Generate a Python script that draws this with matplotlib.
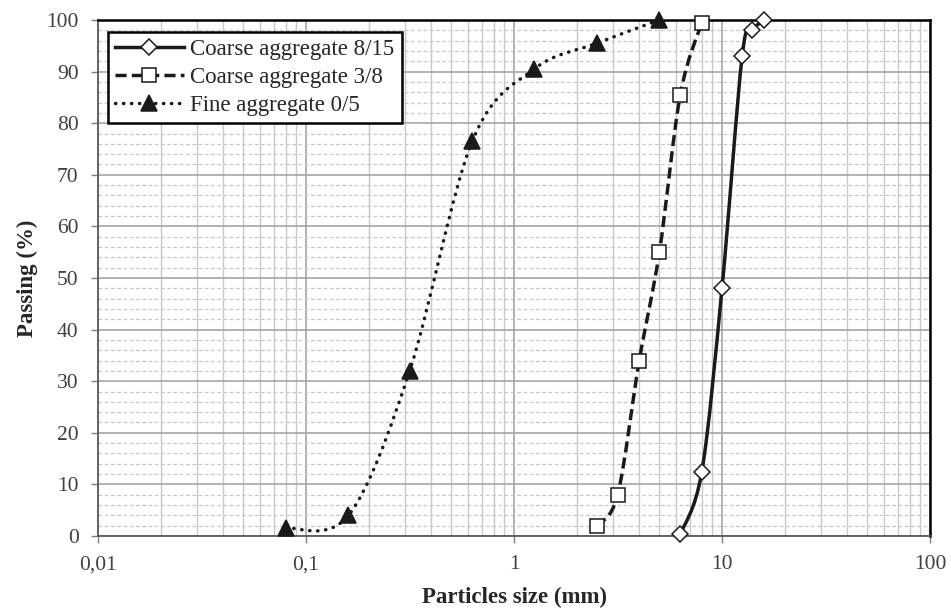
import numpy as np
import matplotlib
matplotlib.use('Agg')
import matplotlib.pyplot as plt
from matplotlib.path import Path
from matplotlib.patches import PathPatch
from matplotlib.lines import Line2D
from matplotlib.ticker import FixedLocator, FixedFormatter, MultipleLocator

plt.rcParams['font.family'] = ['Liberation Serif', 'DejaVu Serif']

# sieve sizes (mm) and passing (%)
coarse_815_x = [6.3, 8, 10, 12.5, 14, 16]
coarse_815_y = [0.3, 12.5, 48, 93, 98, 100]
coarse_38_x = [2.5, 3.15, 4, 5, 6.3, 8]
coarse_38_y = [2, 8, 34, 55, 85.5, 99.5]
fine_05_x = [0.08, 0.16, 0.315, 0.63, 1.25, 2.5, 5]
fine_05_y = [1.5, 4, 32, 76.5, 90.5, 95.5, 100]

x_ticks = [0.01, 0.1, 1, 10, 100]
x_tick_labels = ['0,01', '0,1', '1', '10', '100']


def smooth_path(xs, ys):
    """Excel-like smoothed line: cubic Bezier segments, Catmull-Rom tangents in log-x space"""
    lx = np.log10(xs)
    y = np.asarray(ys, dtype=float)
    n = len(lx)
    verts = [(xs[0], y[0])]
    codes = [Path.MOVETO]
    for i in range(n - 1):
        i0 = max(i - 1, 0)
        i3 = min(i + 2, n - 1)
        c1 = (lx[i] + (lx[i + 1] - lx[i0]) / 6, y[i] + (y[i + 1] - y[i0]) / 6)
        c2 = (lx[i + 1] - (lx[i3] - lx[i]) / 6, y[i + 1] - (y[i3] - y[i]) / 6)
        verts += [(10 ** c1[0], c1[1]), (10 ** c2[0], c2[1]), (xs[i + 1], y[i + 1])]
        codes += [Path.CURVE4] * 3
    return Path(verts, codes)


fig = plt.figure(figsize=(9.51, 6.11), dpi=100)
ax = fig.add_axes([98 / 951, 1 - 536 / 611, 832 / 951, 516 / 611])
ax.set_xscale('log')
ax.set_xlim(0.01, 100)
ax.set_ylim(0, 100)

ax.yaxis.set_major_locator(MultipleLocator(10))
ax.yaxis.set_minor_locator(MultipleLocator(2))
ax.xaxis.set_major_locator(FixedLocator(x_ticks))
ax.xaxis.set_major_formatter(FixedFormatter(x_tick_labels))

ax.grid(which='major', axis='both', color='#a6a6a6', lw=1.2, ls='-')
ax.grid(which='minor', axis='x', color='#c8c8c8', lw=1.0, ls='-')
ax.grid(which='minor', axis='y', color='#c8c8c8', lw=0.9, ls=(0, (3, 2)))
ax.set_axisbelow(True)

series = [
    (coarse_815_x, coarse_815_y, '-', 'D', 'white', 'Coarse aggregate 8/15', 8.5),
    (coarse_38_x, coarse_38_y, (0, (3.2, 1.5)), 's', 'white', 'Coarse aggregate 3/8', 10.5),
    (fine_05_x, fine_05_y, (0, (0.1, 2.2)), '^', '#1a1a1a', 'Fine aggregate 0/5', 12),
]
handles = []
for xs, ys, ls, mk, mfc, label, ms in series:
    patch = PathPatch(smooth_path(xs, ys), fill=False, ec='#1a1a1a', lw=2.5, ls=ls,
                      capstyle='round' if mk == '^' else 'butt', zorder=3)
    ax.add_patch(patch)
    ax.plot(xs, ys, ls='none', marker=mk, ms=ms, mfc=mfc, mec='#1a1a1a', mew=1.1,
            zorder=4, clip_on=False)
    handles.append(Line2D([], [], color='#1a1a1a', lw=2.5, ls=ls, marker=mk, ms=ms,
                          mfc=mfc, mec='#1a1a1a', mew=1.1, label=label,
                          dash_capstyle='round' if mk == '^' else 'butt'))

for side in ['top', 'right']:
    ax.spines[side].set_color('black')
    ax.spines[side].set_linewidth(1.8)
for side in ['left', 'bottom']:
    ax.spines[side].set_color('#595959')
    ax.spines[side].set_linewidth(1.3)

ax.tick_params(which='major', length=5, width=1, color='#808080', labelsize=15.5,
               labelcolor='#404040', direction='out')
ax.tick_params(which='minor', length=0)
ax.tick_params(axis='x', pad=9)
ax.tick_params(axis='y', pad=9)

ax.set_xlabel('Particles size (mm)', fontsize=16.5, fontweight='bold', color='#262626', labelpad=9)
ax.set_ylabel('Passing (%)', fontsize=16.5, fontweight='bold', color='#262626', labelpad=6)

leg = ax.legend(handles=handles, loc='upper left', bbox_to_anchor=(10 / 832, 1 - 12 / 516),
                fontsize=16.5, frameon=True, fancybox=False, framealpha=1,
                edgecolor='black', handlelength=3.0, handletextpad=0.3,
                borderpad=0.3, labelspacing=0.3, borderaxespad=0)
leg.get_frame().set_linewidth(1.8)
for t in leg.get_texts():
    t.set_color('#262626')

fig.savefig('out.png', dpi=100)
